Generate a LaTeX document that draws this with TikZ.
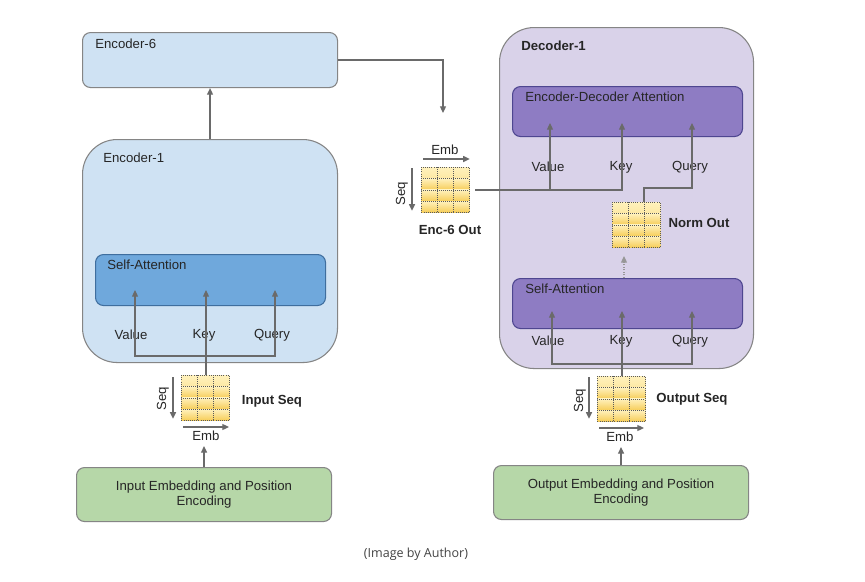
\documentclass[tikz,border=0pt]{standalone}
\usepackage{fontspec}
\setmainfont{Liberation Sans}
\newfontfamily\capfont{Open Sans}
\usetikzlibrary{arrows.meta,calc}
\definecolor{encfill}{HTML}{CFE2F3}
\definecolor{esafill}{HTML}{6FA8DC}
\definecolor{esaborder}{HTML}{3F6E9E}
\definecolor{decfill}{HTML}{D9D2E9}
\definecolor{attfill}{HTML}{8E7CC3}
\definecolor{attborder}{HTML}{4E4690}
\definecolor{greenfill}{HTML}{B6D7A8}
\definecolor{bordergray}{HTML}{858585}
\definecolor{arrowgray}{HTML}{6A6A6A}
\definecolor{txt}{HTML}{262626}
\definecolor{gridtop}{HTML}{FFF1BC}
\definecolor{gridbot}{HTML}{F6CD58}
\definecolor{gridline}{HTML}{5A5A5A}
\definecolor{capgray}{HTML}{444444}
\begin{document}
\begin{tikzpicture}[x=0.75pt,y=-0.75pt,
  font=\fontsize{9.9}{11.3}\selectfont,
  box/.style={draw=bordergray, line width=0.8pt, rounded corners=6pt, anchor=north west, inner sep=0, text=txt, align=center},
  conn/.style={draw=arrowgray, line width=0.9pt, solid},
  arr/.style={conn, -{Triangle[length=5pt,width=4.5pt]}},
  lbl/.style={inner sep=0, text=txt},
  title/.style={lbl, anchor=west},
  boldlbl/.style={lbl, font=\fontsize{9.9}{11.3}\selectfont\bfseries},
  seqgrid/.style={anchor=north west, minimum width=36pt, minimum height=33.75pt, inner sep=0,
    draw=gridline, densely dotted, line width=0.6pt,
    path picture={
      \foreach \i in {0,1,2,3}{
        \shade[top color=gridtop, bottom color=gridbot]
          ($(path picture bounding box.north west)!{\i/4}!(path picture bounding box.south west)$)
          rectangle
          ($(path picture bounding box.north east)!{(\i+1)/4}!(path picture bounding box.south east)$);
      }
      \foreach \i in {1,2,3}{
        \draw[gridline, densely dotted, line width=0.5pt]
          ($(path picture bounding box.north west)!{\i/4}!(path picture bounding box.south west)$) --
          ($(path picture bounding box.north east)!{\i/4}!(path picture bounding box.south east)$);
      }
      \foreach \i in {1,2}{
        \draw[gridline, densely dotted, line width=0.5pt]
          ($(path picture bounding box.north west)!{\i/3}!(path picture bounding box.north east)$) --
          ($(path picture bounding box.south west)!{\i/3}!(path picture bounding box.south east)$);
      }
    }},
]
\fill[white] (0,0) rectangle (865,582);
\useasboundingbox (0,0) rectangle (865,582);

% ---------------- Encoder side ----------------
\node[box, fill=encfill, minimum width=191.25pt, minimum height=41.25pt] (enc6) at (82,32) {};
\node[title] (enc6t) at (95,44) {Encoder-6};
\node[box, fill=encfill, rounded corners=26pt, minimum width=191.25pt, minimum height=167.25pt] (enc1) at (82,139) {};
\node[title] (enc1t) at (103,158) {Encoder-1};
\node[box, fill=esafill, draw=esaborder, minimum width=172.5pt, minimum height=38.25pt] (esa) at (95,254) {};
\node[title] (esat) at (107,265) {Self-Attention};

\node[lbl] (ev) at (131,335) {Value};
\node[lbl] (ek) at (204,335) {Key};
\node[lbl] (eq) at (272,335) {Query};

\node[seqgrid] (ig) at (181,375) {};
\coordinate (eh) at (0,356);
\coordinate (eVtip) at (135,290);
\coordinate (eKtip) at (206,290);
\coordinate (eQtip) at (275,290);
\draw[arr] (ig.north -| eKtip) -- (eKtip);
\draw[arr] (eKtip |- eh) -| (eVtip);
\draw[arr] (eKtip |- eh) -| (eQtip);

\draw[arr] ($(ig.north west)+(-8,2)$) -- ($(ig.south west)+(-8,-2)$);
\node[lbl, rotate=90] (iseq) at (163,399) {Seq};
\draw[arr] (183,427) -- (229,427);
\node[lbl] (iemb) at (206,436) {Emb};
\node[boldlbl] (iseqt) at (272,401) {Input Seq};

\node[box, fill=greenfill, minimum width=191.25pt, minimum height=40.5pt] (inemb) at (76,467) {Input Embedding and Position\\Encoding};
\draw[arr] (inemb.north) -- (inemb.north |- 0,446);

\draw[arr] (enc1.north) -- (enc6.south);

% ---------------- Enc-6 output ----------------
\coordinate (e6tip) at (443,113);
\draw[arr] (enc6.east) -| (e6tip);
\node[seqgrid] (eg) at (421,167) {};
\node[lbl] (egemb) at (445,150) {Emb};
\draw[arr] ($(eg.north west)+(2,-8)$) -- ($(eg.north east)+(0,-8)$);
\draw[arr] ($(eg.north west)+(-9,1)$) -- ($(eg.south west)+(-9,-2)$);
\node[lbl, rotate=90] (egseq) at (402,194) {Seq};
\node[boldlbl] (egt) at (450,230) {Enc-6 Out};

% ---------------- Decoder side ----------------
\node[box, fill=decfill, rounded corners=26pt, minimum width=190.5pt, minimum height=255.75pt] (dec) at (499,27) {};
\node[title, font=\fontsize{9.9}{11.3}\selectfont\bfseries] (dect) at (521,46) {Decoder-1};
\node[box, fill=attfill, draw=attborder, minimum width=172.5pt, minimum height=37.5pt] (eda) at (512,86) {};
\node[title] (edat) at (525,97) {Encoder-Decoder Attention};
\node[box, fill=attfill, draw=attborder, minimum width=172.5pt, minimum height=37.5pt] (dsa) at (512,278) {};
\node[title] (dsat) at (525,289) {Self-Attention};

\node[lbl] (uv) at (548,167) {Value};
\node[lbl] (uk) at (621,167) {Key};
\node[lbl] (uq) at (690,167) {Query};
\node[lbl] (lv) at (548,341) {Value};
\node[lbl] (lk) at (621,341) {Key};
\node[lbl] (lq) at (690,341) {Query};

% encoder output into V, K
\coordinate (dVtip) at (550,123);
\coordinate (dKtip) at (622,123);
\coordinate (dQtip) at (692,123);
\draw[arr] ([xshift=4pt]eg.east) -| (dKtip);
\draw[arr] (eg.east -| dVtip) -- (dVtip);

% Norm out
\node[seqgrid] (ng) at (612,202) {};
\node[boldlbl] (ngt) at (699,223) {Norm Out};
\coordinate (nq) at (644,202);
\coordinate (ndot) at (624,247);
\draw[arr, densely dotted, draw=arrowgray!70] (dsa.north -| ndot) -- ($(ndot)+(0,9)$);
\draw[arr] (nq) -- (nq |- 0,188) -| (dQtip);

% lower self-attention
\node[seqgrid] (og) at (597,376) {};
\coordinate (dh) at (0,364);
\coordinate (lVtip) at (552,311);
\coordinate (lKtip) at (622,311);
\coordinate (lQtip) at (692,311);
\draw[arr] (og.north -| lKtip) -- (lKtip);
\draw[arr] (lKtip |- dh) -| (lVtip);
\draw[arr] (lKtip |- dh) -| (lQtip);

\draw[arr] ($(og.north west)+(-8,1)$) -- ($(og.south west)+(-8,-3)$);
\node[lbl, rotate=90] (oseq) at (580,401) {Seq};
\draw[arr] (599,428) -- (644,428);
\node[lbl] (oemb) at (620,437) {Emb};
\node[boldlbl] (oseqt) at (692,399) {Output Seq};

\node[box, fill=greenfill, minimum width=191.25pt, minimum height=40.5pt] (outemb) at (493,465) {Output Embedding and Position\\Encoding};
\draw[arr] (outemb.north) -- (outemb.north |- 0,447);

% caption
\node[lbl, text=capgray, font=\capfont\fontsize{9.4}{11}\selectfont] (cap) at (416,554) {(Image by Author)};
\end{tikzpicture}
\end{document}
